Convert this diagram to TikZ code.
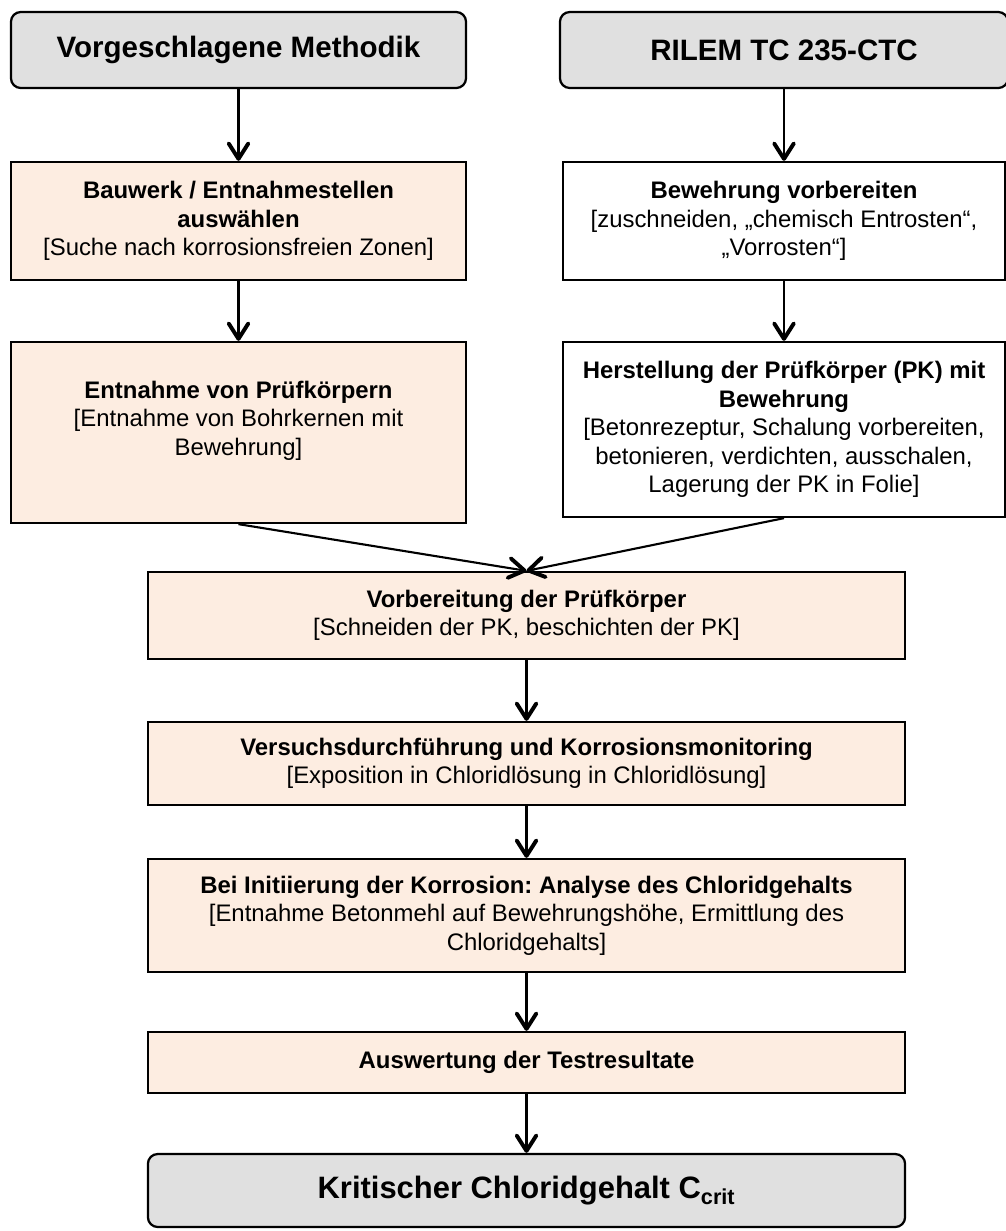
\documentclass[tikz,border=0pt]{standalone}
\usepackage{fontspec}
\setmainfont{Liberation Sans}
\usetikzlibrary{arrows.meta}

\definecolor{peach}{RGB}{253,237,225}
\definecolor{headgray}{RGB}{224,224,224}

\begin{document}
\frenchspacing
\begin{tikzpicture}[x=0.025cm, y=-0.025cm,
  box/.style={draw, line width=1.6pt, rectangle, align=center,
    font=\fontsize{17}{20.3}\selectfont},
  stepbox/.style={box, fill=peach},
  headbox/.style={draw, line width=1.6pt, rounded corners=7pt, fill=headgray,
    align=center, font=\fontsize{21}{24}\selectfont\bfseries},
  arr/.style={-{Straight Barb[length=11pt, width=14pt, line width=2.8pt, round]}, line width=1.5pt}
]
\useasboundingbox (0,0) rectangle (1006,1231);

% Headers
\node[headbox, minimum width=11.375cm, minimum height=1.9cm] (titleL) at (238.5,50) {Vorgeschlagene Methodik};
\node[headbox, minimum width=11.2cm, minimum height=1.9cm] (titleR) at (784,50) {RILEM TC 235-CTC};

% Left column
\node[stepbox, minimum width=11.375cm, minimum height=2.95cm] (bauwerk) at (238.5,221)
  {\textbf{Bauwerk / Entnahmestellen}\\\textbf{auswählen}\\{}[Suche nach korrosionsfreien Zonen]};
\node[stepbox, minimum width=11.375cm, minimum height=4.525cm] (entnahme) at (238.5,432.5)
  {\textbf{Entnahme von Prüfkörpern}\\{}[Entnahme von Bohrkernen mit\\Bewehrung]\\\mbox{}};

% Right column
\node[box, minimum width=11.05cm, minimum height=2.95cm] (bewehr) at (784,221)
  {\textbf{Bewehrung vorbereiten}\\{}[zuschneiden, „chemisch Entrosten“,\\„Vorrosten“]};
\node[box, minimum width=11.05cm, minimum height=4.375cm] (herst) at (784,429.5)
  {\textbf{Herstellung der Prüfkörper (PK) mit}\\\textbf{Bewehrung}\\{}[Betonrezeptur, Schalung vorbereiten,\\betonieren, verdichten, ausschalen,\\Lagerung der PK in Folie]};

% Common column
\node[stepbox, minimum width=18.925cm, minimum height=2.175cm] (vorb) at (526.5,615.5)
  {\textbf{Vorbereitung der Prüfkörper}\\{}[Schneiden der PK, beschichten der PK]};
\node[stepbox, minimum width=18.925cm, minimum height=2.075cm] (vers) at (526.5,763.5)
  {\textbf{Versuchsdurchführung und Korrosionsmonitoring}\\{}[Exposition in Chloridlösung in Chloridlösung]};
\node[stepbox, minimum width=18.925cm, minimum height=2.825cm] (init) at (526.5,915.5)
  {\textbf{Bei Initiierung der Korrosion: Analyse des Chloridgehalts}\\{}[Entnahme Betonmehl auf Bewehrungshöhe, Ermittlung des\\Chloridgehalts]};
\node[stepbox, minimum width=18.925cm, minimum height=1.525cm] (ausw) at (526.5,1062.5)
  {\textbf{Auswertung der Testresultate}};
\node[headbox, minimum width=18.925cm, minimum height=1.825cm, font=\fontsize{22}{26}\selectfont\bfseries] (krit) at (526.5,1190.5)
  {Kritischer Chloridgehalt C\textsubscript{crit}};

% Arrows
\draw[arr] (titleL) -- (bauwerk);
\draw[arr] (bauwerk) -- (entnahme);
\draw[arr] (titleR) -- (bewehr);
\draw[arr] (bewehr) -- (herst);
\draw[arr] (entnahme.south) -- (vorb.north);
\draw[arr] (herst.south) -- (vorb.north);
\foreach \a/\b in {vorb/vers, vers/init, init/ausw, ausw/krit}{
  \draw[arr] (\a) -- (\b);
}

\end{tikzpicture}
\end{document}
